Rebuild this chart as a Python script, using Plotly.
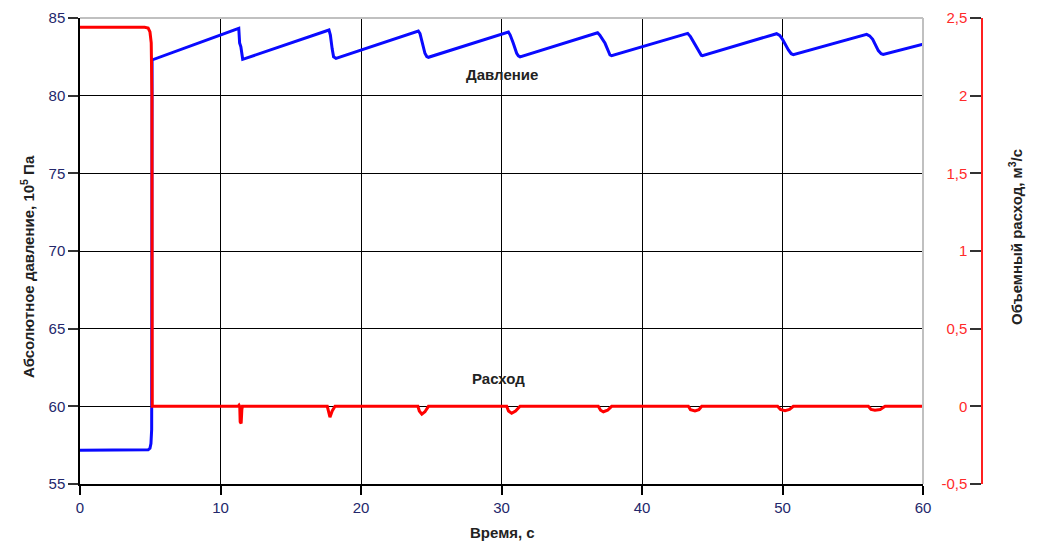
import plotly.graph_objects as go

# ---- data ----
pressure_t = [0, 4.5, 4.85, 4.98, 5.05, 5.1, 5.13,
              11.3, 11.36, 11.45, 11.58,
              17.72, 17.82, 17.95, 18.05, 18.22,
              24.08, 24.2, 24.32, 24.55, 24.68, 24.8,
              30.49, 30.62, 30.84, 31.08, 31.2, 31.32,
              36.84, 37.0, 37.37, 37.6, 37.72, 37.84,
              43.25, 43.45, 43.77, 44.13, 44.22, 44.3,
              49.58, 49.8, 50.01, 50.42, 50.62, 50.77,
              55.99, 56.2, 56.42, 56.82, 57.02, 57.17,
              60.0]
pressure_v = [57.18, 57.18, 57.2, 57.3, 57.6, 58.5, 82.3,
              84.34, 83.4, 83.15, 82.34,
              84.23, 83.9, 83.0, 82.5, 82.4,
              84.16, 84.0, 83.58, 82.73, 82.52, 82.47,
              84.10, 83.9, 83.37, 82.73, 82.56, 82.5,
              84.05, 83.9, 83.37, 82.83, 82.62, 82.57,
              84.01, 83.8, 83.26, 82.68, 82.6, 82.57,
              83.99, 83.88, 83.62, 82.94, 82.7, 82.64,
              83.95, 83.85, 83.63, 82.9, 82.7, 82.66,
              83.32]

flow_t = [0, 4.6, 4.85, 4.98, 5.07, 5.12, 5.14,
          11.25, 11.32, 11.37, 11.4, 11.47, 11.52, 11.56,
          17.6, 17.66, 17.79, 17.95, 18.15,
          24.05, 24.15, 24.33, 24.55, 24.8,
          30.37, 30.5, 30.72, 31.0, 31.32,
          36.89, 37.05, 37.25, 37.55, 37.84,
          43.3, 43.45, 43.77, 44.05, 44.25,
          49.65, 49.85, 50.18, 50.5, 50.77,
          56.11, 56.3, 56.58, 56.95, 57.3,
          60.0]
flow_v = [2.44, 2.44, 2.435, 2.41, 2.34, 2.0, 0.0,
          0.0, 0.008, 0.0, -0.1, -0.11, -0.02, 0.0,
          0.0, -0.03, -0.07, -0.03, 0.0,
          0.0, -0.03, -0.05, -0.035, 0.0,
          0.0, -0.03, -0.045, -0.03, 0.0,
          0.0, -0.025, -0.035, -0.025, 0.0,
          0.0, -0.022, -0.03, -0.022, 0.0,
          0.0, -0.02, -0.028, -0.02, 0.0,
          0.0, -0.02, -0.025, -0.02, 0.0,
          0.0]

x_ticks = [0, 10, 20, 30, 40, 50, 60]
p_ticks = [55, 60, 65, 70, 75, 80, 85]
q_ticks = [-0.5, 0, 0.5, 1, 1.5, 2, 2.5]
q_ticktext = ["-0,5", "0", "0,5", "1", "1,5", "2", "2,5"]

x_title = "Время, с"
p_title = "Абсолютное давление, 10<sup>5</sup> Па"
q_title = "Объемный расход, м<sup>3</sup>/с"
label_p = "Давление"
label_q = "Расход"

FONT = "Liberation Sans, Arial, sans-serif"
TICKCOL = "#23276b"
TITLECOL = "#222222"

# page body has an 8px margin: work in window pixels, convert to figure pixels
OFF = 8
W, H = 1040 - OFF, 543 - OFF
PL, PR, PT, PB = 80, 923, 18, 484          # plot area in window pixels
L = PL - OFF
T = PT - OFF
R = 20
B = H - (PB - OFF)
pw = W - L - R
ph = H - T - B


def px(xw):
    return (xw - PL) / pw


def py(yw):
    return (PB - yw) / ph


fig = go.Figure()
fig.add_trace(go.Scatter(x=flow_t, y=flow_v, yaxis="y2", mode="lines",
                         line=dict(color="#ff0000", width=3), showlegend=False,
                         hoverinfo="skip"))
fig.add_trace(go.Scatter(x=pressure_t, y=pressure_v, mode="lines",
                         line=dict(color="#0a0aff", width=3), showlegend=False,
                         hoverinfo="skip"))

fig.update_layout(
    width=W, height=H, autosize=False,
    margin=dict(l=L, r=R, t=T, b=B, pad=0, autoexpand=False),
    paper_bgcolor="white", plot_bgcolor="white",
    separators=", ",
    font=dict(family=FONT, size=15, color=TITLECOL),
    xaxis=dict(domain=[0, px(PR)], range=[0, 60], tickvals=x_ticks,
               showgrid=True, gridcolor="#000000", gridwidth=1,
               showline=True, linecolor="#000000", linewidth=1.5,
               ticks="outside", ticklen=9, tickcolor="#000000", tickwidth=1.5,
               tickfont=dict(family=FONT, size=15, color=TICKCOL),
               zeroline=False, fixedrange=True, automargin=False),
    yaxis=dict(range=[55, 85], tickvals=p_ticks,
               showgrid=True, gridcolor="#000000", gridwidth=1,
               showline=True, linecolor="#000000", linewidth=1.5,
               ticks="outside", ticklen=10, tickcolor="#333333", tickwidth=1.5,
               tickfont=dict(family=FONT, size=15, color=TICKCOL),
               zeroline=False, fixedrange=True, automargin=False),
    yaxis2=dict(range=[-0.5, 2.5], tickvals=q_ticks, ticktext=q_ticktext,
                overlaying="y", anchor="free", position=px(982), side="left",
                showgrid=False, zeroline=False,
                showline=True, linecolor="#ff2020", linewidth=1.5,
                ticks="outside", ticklen=11, tickcolor="#333333", tickwidth=1.5,
                tickfont=dict(family=FONT, size=15, color="#ff2a2a"),
                fixedrange=True, automargin=False),
    shapes=[
        dict(type="line", xref="x domain", yref="y domain", x0=0, x1=1, y0=1, y1=1,
             line=dict(color="#c0c0c0", width=2), layer="above"),
        dict(type="line", xref="x domain", yref="y domain", x0=1, x1=1, y0=0, y1=1,
             line=dict(color="#c0c0c0", width=2), layer="above"),
    ],
    annotations=[
        dict(text=f"<b>{label_p}</b>", x=30, y=81.39, xref="x", yref="y",
             xanchor="center", yanchor="middle",
             showarrow=False, font=dict(size=15, color=TITLECOL, family=FONT)),
        dict(text=f"<b>{label_q}</b>", x=29.8, y=61.8, xref="x", yref="y",
             xanchor="center", yanchor="middle",
             showarrow=False, font=dict(size=15, color=TITLECOL, family=FONT)),
        dict(text=f"<b>{x_title}</b>", x=px(502), y=py(532),
             xref="paper", yref="paper", xanchor="center", yanchor="middle",
             showarrow=False, font=dict(size=15, color=TITLECOL, family=FONT)),
        dict(text=f"<b>{p_title}</b>", x=px(27), y=py(267),
             xref="paper", yref="paper", xanchor="center", yanchor="middle",
             showarrow=False, textangle=-90,
             font=dict(size=15, color=TITLECOL, family=FONT)),
        dict(text=f"<b>{q_title}</b>", x=px(1016), y=py(237),
             xref="paper", yref="paper", xanchor="center", yanchor="middle",
             showarrow=False, textangle=-90,
             font=dict(size=15, color=TITLECOL, family=FONT)),
    ],
)

fig.write_html("out.html")
